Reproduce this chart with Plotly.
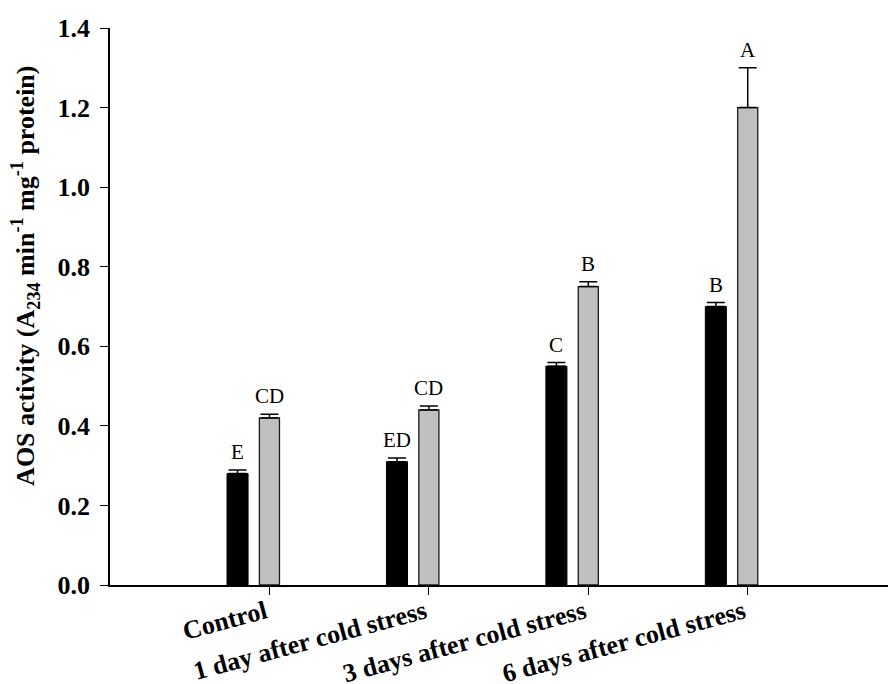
import plotly.graph_objects as go

categories = ["Control", "1 day after cold stress", "3 days after cold stress", "6 days after cold stress"]
black_values = [0.28, 0.31, 0.55, 0.70]
black_errors = [0.009, 0.009, 0.009, 0.010]
gray_values = [0.42, 0.44, 0.75, 1.20]
gray_errors = [0.009, 0.010, 0.012, 0.10]
black_letters = ["E", "ED", "C", "B"]
gray_letters = ["CD", "CD", "B", "A"]
y_ticks = [0.0, 0.2, 0.4, 0.6, 0.8, 1.0, 1.2, 1.4]

pos = list(range(len(categories)))
black_x = [p - 0.2 for p in pos]
gray_x = [p for p in pos]

serif = "Liberation Serif, Times New Roman, serif"

fig = go.Figure()
fig.add_trace(go.Bar(
    x=black_x, y=black_values, width=0.132,
    marker=dict(color="black", line=dict(color="black", width=1)),
    error_y=dict(type="data", array=black_errors, arrayminus=[0]*4, symmetric=False,
                 color="black", thickness=1.5, width=9),
    showlegend=False,
))
fig.add_trace(go.Bar(
    x=gray_x, y=gray_values, width=0.126,
    marker=dict(color="#C0C0C0", line=dict(color="#1a1a1a", width=1.3)),
    error_y=dict(type="data", array=gray_errors, arrayminus=[0]*4, symmetric=False,
                 color="black", thickness=1.5, width=9),
    showlegend=False,
))

for xs, vals, errs, labs in [(black_x, black_values, black_errors, black_letters),
                              (gray_x, gray_values, gray_errors, gray_letters)]:
    for x, v, e, t in zip(xs, vals, errs, labs):
        fig.add_annotation(x=x, y=v + e, text=t, showarrow=False, yanchor="bottom",
                           yshift=4, font=dict(family=serif, size=21, color="black"))

fig.add_annotation(
    xref="paper", yref="paper", x=-0.1081, y=0.555, xanchor="center", yanchor="middle",
    textangle=-90, showarrow=False,
    text="<b>AOS activity (A<sub>234</sub> min<sup>-1</sup> mg<sup>-1</sup> protein)</b>",
    font=dict(family=serif, size=26, color="black"),
)

fig.update_layout(
    width=888, height=676,
    margin=dict(l=102, r=0, t=20, b=99),
    paper_bgcolor="white", plot_bgcolor="white",
    barmode="overlay",
    font=dict(family=serif, color="black"),
)
fig.update_xaxes(
    range=[-1.0, 3.93], tickvals=pos, ticktext=["<b>%s</b>" % c for c in categories],
    tickangle=-15, ticks="outside", ticklen=8, tickwidth=1.3, tickcolor="black",
    showline=True, linecolor="black", linewidth=2, showgrid=False, zeroline=False,
    tickfont=dict(family=serif, size=26, color="black"), automargin=False,
    ticklabelstandoff=-8, ticklabelshift=-4,
)
fig.update_yaxes(
    range=[0, 1.4], tickvals=y_ticks, ticktext=["<b>%.1f</b>" % v for v in y_ticks],
    ticks="outside", ticklen=8, tickwidth=1.3, tickcolor="black",
    showline=True, linecolor="black", linewidth=1.5, showgrid=False, zeroline=False,
    tickfont=dict(family=serif, size=26, color="black"), automargin=False,
    ticklabelstandoff=5,
)

fig.write_html("out.html")
